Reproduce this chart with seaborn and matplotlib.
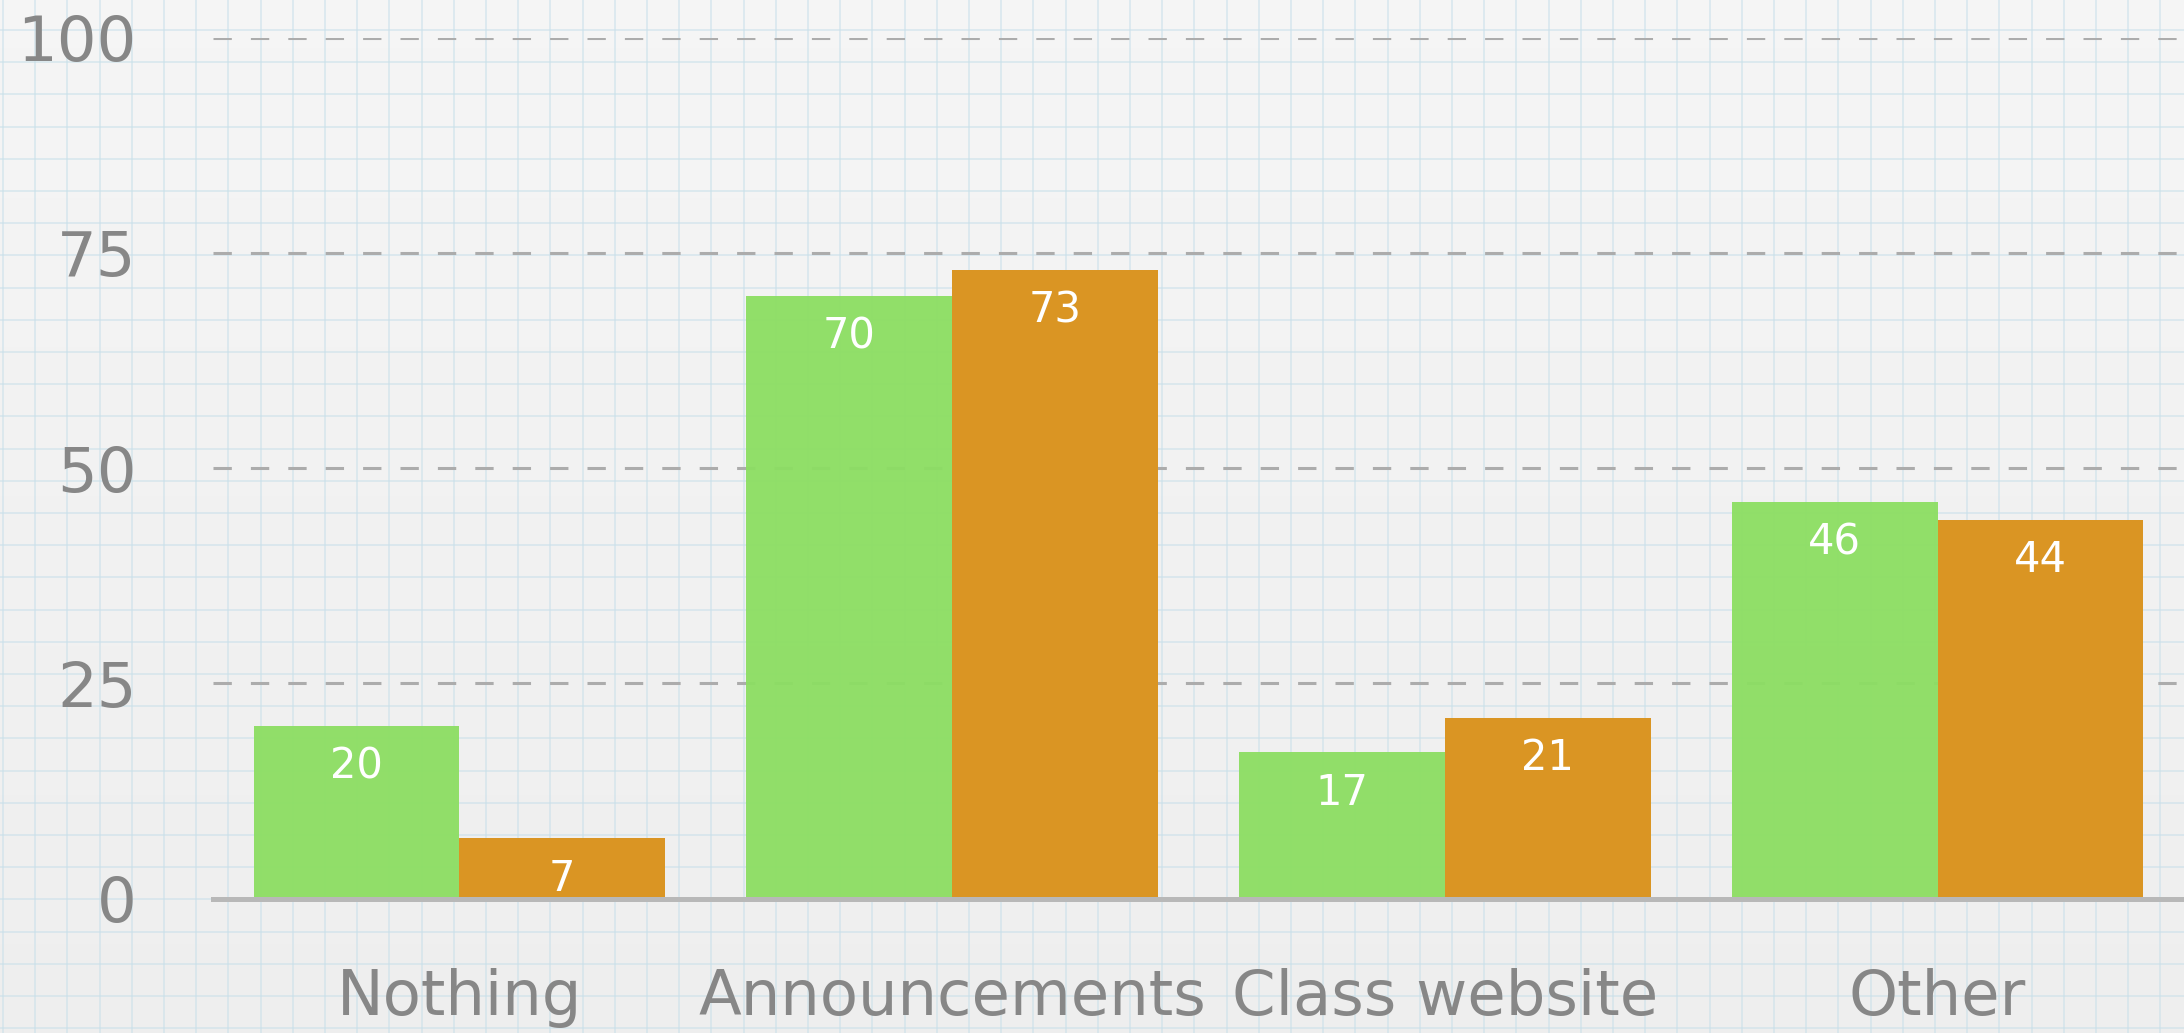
import matplotlib
matplotlib.use("Agg")
import matplotlib.pyplot as plt
import numpy as np
import pandas as pd
import seaborn as sns

categories = ["Nothing", "Announcements", "Class website", "Other"]
series_names = ["Group A", "Group B"]
values_a = [20, 70, 17, 46]
values_b = [7, 73, 21, 44]
y_ticks = [0, 25, 50, 75, 100]

df = pd.DataFrame({
    "category": categories * 2,
    "group": [series_names[0]] * len(categories) + [series_names[1]] * len(categories),
    "value": values_a + values_b,
})

sns.set_style("white")
plt.rcParams["font.family"] = ["DejaVu Sans"]

fig = plt.figure(figsize=(21.84, 10.33), dpi=100)

# graph-paper background
bg = fig.add_axes([0, 0, 1, 1], zorder=-10)
grad = np.linspace(0.962, 0.935, 256).reshape(-1, 1)
bg.imshow(np.dstack([grad, grad, grad]), aspect="auto", extent=[0, 2184, 0, 1033])
for gx in np.arange(3, 2184, 32.2):
    bg.axvline(gx, color="#c9e0ea", lw=1.4, alpha=0.55)
for gy in np.arange(1033 - 30, 0, -32.2):
    bg.axhline(gy, color="#c9e0ea", lw=1.4, alpha=0.55)
bg.set_xlim(0, 2184)
bg.set_ylim(0, 1033)
bg.axis("off")

ax = fig.add_axes([0.0975, 0.1302, 0.9025, 0.8334])
ax.set_facecolor("none")

sns.barplot(data=df, x="category", y="value", hue="group",
            palette=["#8cde62", "#da9523"], width=0.835, saturation=1,
            linewidth=0, legend=False, ax=ax, zorder=3)

for p in ax.containers[0]:
    p.set_alpha(0.95)

for cont in ax.containers:
    for p in cont:
        h = p.get_height()
        ax.annotate(f"{h:.0f}", (p.get_x() + p.get_width() / 2, h),
                    xytext=(0, -14), textcoords="offset points",
                    ha="center", va="top", color="white", fontsize=30,
                    zorder=5)

ax.set_xlim(-0.5, 3.5)
ax.set_ylim(0, 100)
ax.set_yticks(y_ticks)
ax.set_xlabel("")
ax.set_ylabel("")

ax.yaxis.grid(True, color="#acacac", lw=2.2, linestyle=(0, (6.0, 6.24)))
ax.set_axisbelow(True)

for s in ["top", "right", "left"]:
    ax.spines[s].set_visible(False)
ax.spines["bottom"].set_color("#b8b8b8")
ax.spines["bottom"].set_linewidth(3.6)
ax.spines["bottom"].set_zorder(4)

ax.tick_params(axis="y", length=0, pad=55, labelsize=45, labelcolor="#878787")
ax.tick_params(axis="x", length=0, pad=50, labelsize=45, labelcolor="#878787")

fig.savefig("out.png", dpi=100)
